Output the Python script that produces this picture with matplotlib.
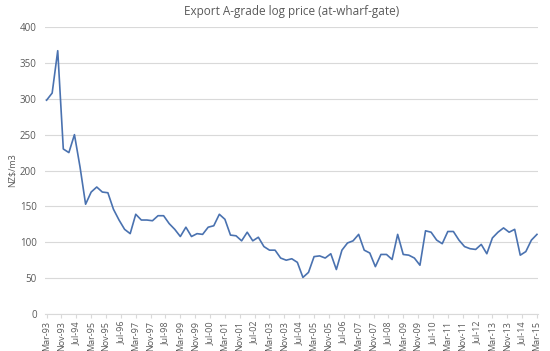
import numpy as np
import matplotlib
matplotlib.use("Agg")
import matplotlib.pyplot as plt

# Quarterly export A-grade log price, NZ$/m3, Mar-93 .. Mar-15
price = [
    298, 308, 367, 230, 225, 250, 205, 153, 170, 177,
    170, 169, 146, 131, 118, 112, 139, 131, 131, 130,
    137, 137, 126, 118, 108, 121, 108, 112, 111, 121,
    123, 139, 132, 110, 109, 102, 114, 102, 107, 94,
    89, 89, 78, 75, 77, 72, 51, 58, 80, 81,
    78, 84, 62, 89, 99, 102, 111, 89, 85, 66,
    83, 83, 76, 111, 83, 82, 78, 68, 116, 114,
    103, 98, 115, 115, 103, 94, 91, 90, 97, 84,
    106, 114, 120, 114, 118, 82, 87, 103, 111,
]

tick_labels = [
    "Mar-93", "Nov-93", "Jul-94", "Mar-95", "Nov-95", "Jul-96", "Mar-97",
    "Nov-97", "Jul-98", "Mar-99", "Nov-99", "Jul-00", "Mar-01", "Nov-01",
    "Jul-02", "Mar-03", "Nov-03", "Jul-04", "Mar-05", "Nov-05", "Jul-06",
    "Mar-07", "Nov-07", "Jul-08", "Mar-09", "Nov-09", "Jul-10", "Mar-11",
    "Nov-11", "Jul-12", "Mar-13", "Nov-13", "Jul-14", "Mar-15",
]

# months since Mar-93 (quarterly points, labels every 8 months)
months = np.arange(len(price)) * 3
tick_pos = np.arange(len(tick_labels)) * 8

grey = "#595959"
grid_c = "#d9d9d9"

plt.rcParams["font.family"] = ["Open Sans", "DejaVu Sans"]

fig = plt.figure(figsize=(5.5, 3.51), dpi=100)
ax = fig.add_axes([0.082, 0.1054, 0.896, 0.8176])

ax.plot(months, price, color="#4a72b0", linewidth=1.2, solid_joinstyle="round")

ax.set_xlim(-0.8, 264.5)
ax.set_ylim(0, 400)
ax.set_yticks(np.arange(0, 401, 50))
ax.set_xticks(tick_pos)
ax.set_xticklabels(tick_labels, rotation=90)

ax.grid(axis="y", color=grid_c, linewidth=0.8)
ax.set_axisbelow(True)
for side in ["top", "right", "left"]:
    ax.spines[side].set_visible(False)
ax.spines["bottom"].set_color(grid_c)
ax.spines["bottom"].set_linewidth(0.8)

ax.tick_params(axis="y", length=0, labelsize=7, labelcolor=grey, pad=6)
ax.tick_params(axis="x", length=3, color=grid_c, labelsize=6.5,
               labelcolor=grey, pad=2)

ax.set_ylabel("NZ$/m3", fontsize=6.5, color=grey)
ax.yaxis.set_label_coords(-0.058, 0.5)
ax.set_title("Export A-grade log price (at-wharf-gate)", fontsize=8.5,
             color=grey, pad=9)

fig.savefig("out.png", dpi=100)
